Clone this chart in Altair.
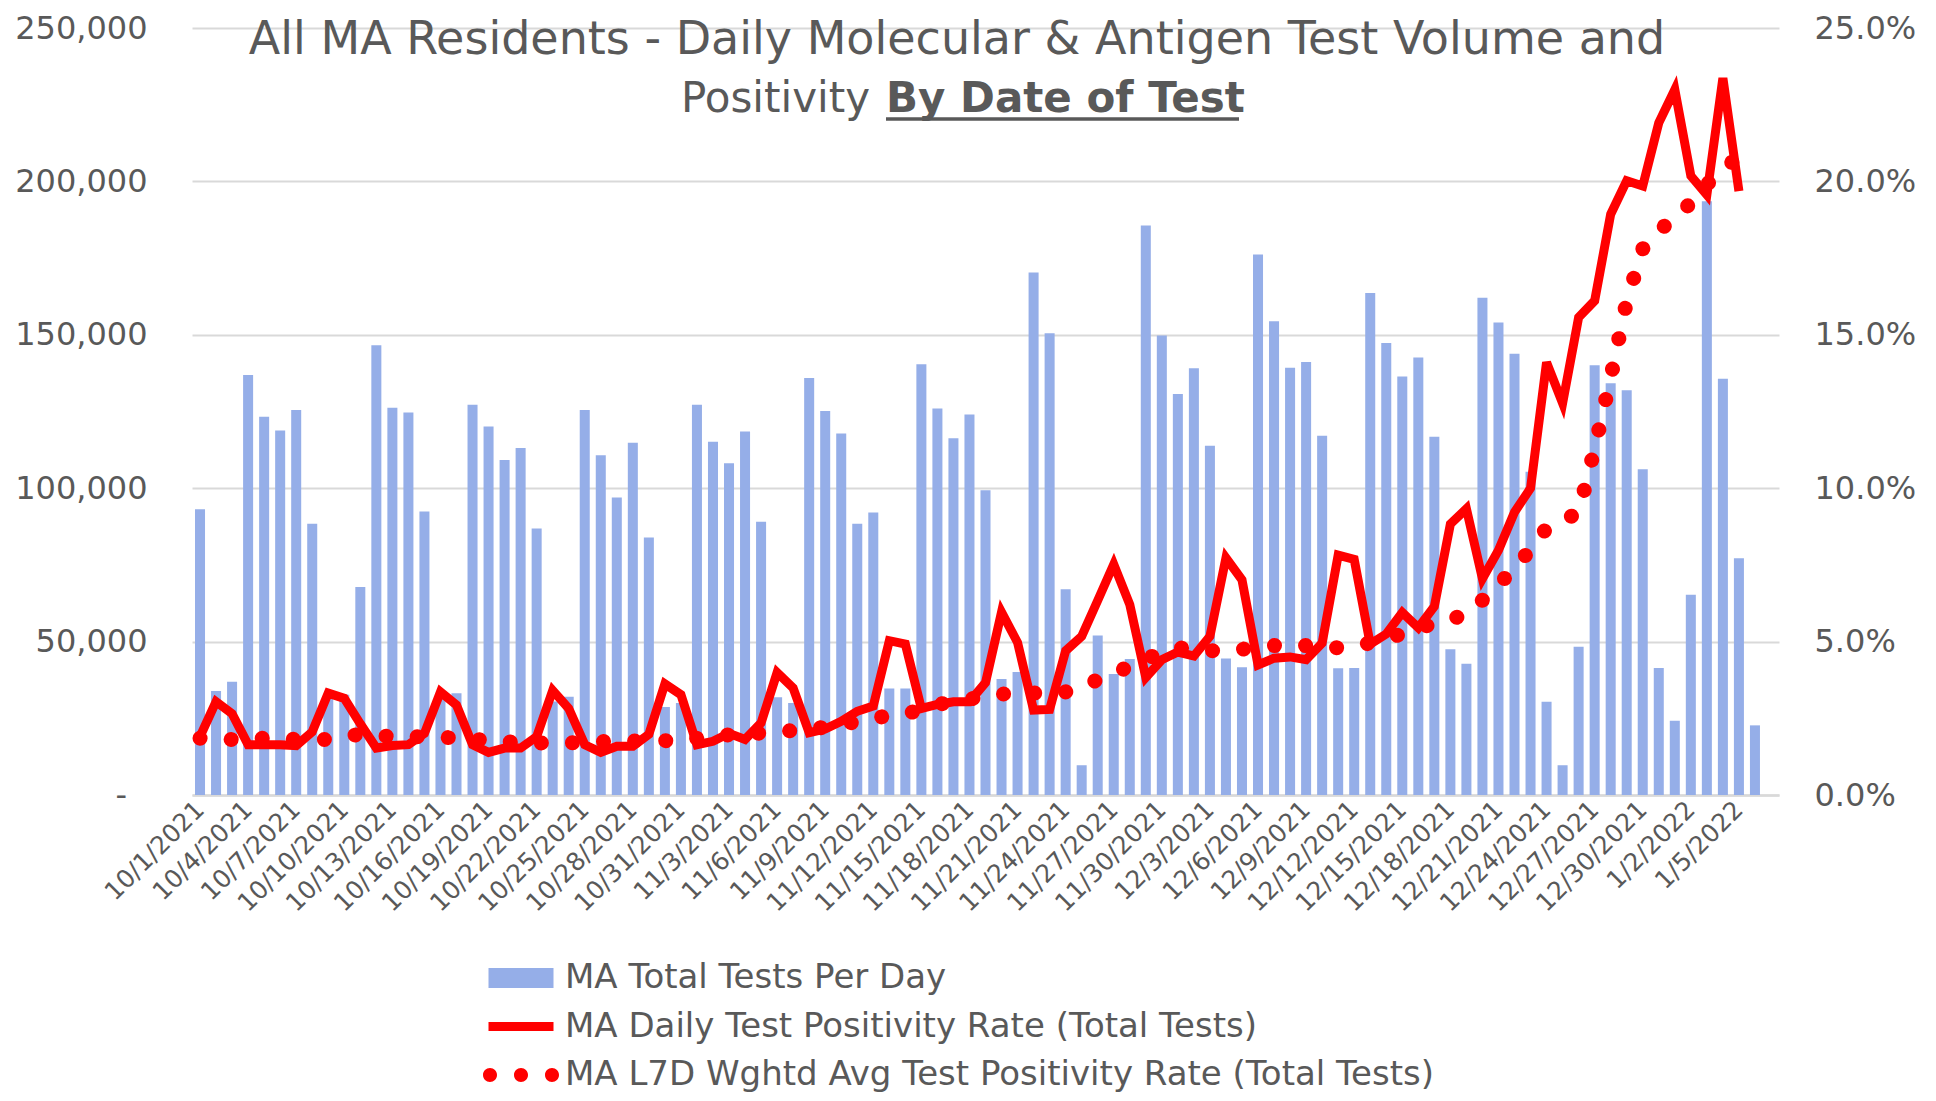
import altair as alt
import pandas as pd

# ---------------- data ----------------
dates = [d.strftime("%-m/%-d/%Y") for d in pd.date_range("2021-10-01", "2022-01-07")]  # 99 categories (last empty)

tests = [
    93100, 33900, 36900, 136900, 123300, 118800, 125500, 88400, 32000, 32700,
    67800, 146600, 126200, 124700, 92400, 32400, 33200, 127200, 120100, 109200,
    113100, 86900, 30500, 32000, 125500, 110700, 97000, 114800, 83900, 28700,
    30000,
    127200, 115100, 108100, 118500, 89100, 31900, 30000, 135900, 125200, 117800,
    88400, 92100, 34700, 34700, 140400, 126000, 116300, 124000, 99300, 37800,
    40100, 170300, 150500, 67100, 9700, 52000, 39400, 44300, 185600, 149800,
    130700, 139100, 113800, 44500, 41600, 176200, 154400, 139300, 141100, 117100,
    41300, 41400, 163600, 147300, 136400, 142600, 116800, 47500, 42800, 162100,
    154000, 143800, 105400, 30400, 9700, 48300, 140100, 134200, 131900, 106200,
    41400,
    24200, 65300, 193500, 135700, 77200, 22700,
]

daily_pct = [
    1.90, 3.04, 2.65, 1.64, 1.64, 1.64, 1.61, 2.06, 3.32, 3.15,
    2.32, 1.53, 1.61, 1.64, 2.01, 3.36, 2.93, 1.64, 1.39, 1.53,
    1.53, 1.90, 3.41, 2.82, 1.64, 1.39, 1.59, 1.59, 1.98, 3.62,
    3.27,
    1.64, 1.75, 2.01, 1.81, 2.35, 3.99, 3.49, 2.03, 2.15, 2.40,
    2.73, 2.90, 5.03, 4.92, 2.82, 2.95, 3.04, 3.04, 3.66, 5.96,
    4.97, 2.77, 2.79, 4.70, 5.17, 6.34, 7.52, 6.21, 3.83, 4.41,
    4.66, 4.53, 5.17, 7.73, 7.01, 4.24, 4.46, 4.50, 4.41, 4.95,
    7.82, 7.68, 4.92, 5.25, 5.95, 5.45, 6.15, 8.83, 9.33, 7.05,
    7.98, 9.22, 10.00, 14.10, 12.77, 15.57, 16.11, 18.93, 20.02, 19.85,
    21.91,
    22.99, 20.18, 19.56, 23.37, 19.68, None,
]

l7d_pct = [
    1.85, 1.83, 1.81, 1.83, 1.85, 1.83, 1.81, 1.81, 1.81, 1.90,
    1.98, 1.94, 1.90, 1.90, 1.90, 1.88, 1.86, 1.82, 1.78, 1.74,
    1.71, 1.70, 1.69, 1.70, 1.71, 1.74, 1.76, 1.76, 1.76, 1.77,
    1.78,
    1.85, 1.93, 1.96, 1.98, 2.02, 2.06, 2.10, 2.15, 2.21, 2.28,
    2.40, 2.52, 2.57, 2.63, 2.80, 2.95, 3.04, 3.12, 3.25, 3.29,
    3.31, 3.32, 3.34, 3.36, 3.55, 3.75, 3.95, 4.20, 4.43, 4.65,
    4.80, 4.75, 4.70, 4.72, 4.75, 4.82, 4.87, 4.87, 4.87, 4.82,
    4.80, 4.88, 4.95, 5.10, 5.25, 5.42, 5.60, 5.72, 5.90, 6.35,
    6.85, 7.40, 8.00, 8.70, 8.95, 9.20, 11.30, 13.60, 16.10, 17.80,
    18.40,
    18.80, 19.30, 19.90, 20.40, 20.80, None,
]

series_names = [
    "MA Total Tests Per Day",
    "MA Daily Test Positivity Rate (Total Tests)",
    "MA L7D Wghtd Avg Test Positivity Rate (Total Tests)",
]
title_line1 = "All MA Residents - Daily Molecular & Antigen Test Volume and"
title_line2a = "Positivity"
title_line2b = "By Date of Test"

# ---------------- style ----------------
FONT = "DejaVu Sans"
GRAY = "#595959"
GRID = "#d9d9d9"
BAR = "#95aee8"
RED = "#ff0000"

n = len(tests)
df = pd.DataFrame({
    "date": dates[:n],
    "tests": tests,
    "daily": daily_pct,
    "l7d": l7d_pct,
})

x_enc = alt.X(
    "date:N", sort=None,
    scale=alt.Scale(domain=dates, paddingInner=0.375, paddingOuter=0.1875),
    axis=alt.Axis(
        title=None, values=dates[0:97:3], labelAngle=-45, labelFont=FONT,
        labelFontSize=25, labelColor=GRAY, labelPadding=10, labelAlign="right",
        labelBaseline="middle", ticks=False,
        domainColor=GRID, domainWidth=2.5, labelOverlap=False, grid=False,
    ),
)

bars = alt.Chart(df).mark_bar(color=BAR).encode(
    x=x_enc,
    y=alt.Y(
        "tests:Q",
        scale=alt.Scale(domain=[0, 250000], nice=False),
        axis=alt.Axis(
            title=None, values=[0, 50000, 100000, 150000, 200000, 250000],
            labelExpr="datum.value == 0 ? '-\u00a0\u00a0\u200b' : format(datum.value, ',')",
            labelFont=FONT, labelFontSize=32, labelColor=GRAY, labelPadding=45,
            ticks=False, domain=False, grid=True, gridColor=GRID, gridWidth=2,
        ),
    ),
)

y_right = alt.Y(
    "daily:Q",
    scale=alt.Scale(domain=[0, 25], nice=False),
    axis=alt.Axis(
        title=None, orient="right", values=[0, 5, 10, 15, 20, 25],
        labelExpr="format(datum.value, '.1f') + '%'",
        labelFont=FONT, labelFontSize=32, labelColor=GRAY, labelPadding=35,
        ticks=False, domain=False, grid=False,
    ),
)

daily_line = alt.Chart(df).mark_line(color=RED, strokeWidth=9).encode(
    x=alt.X("date:N", sort=None),
    y=y_right,
)
l7d_line = alt.Chart(df).mark_line(
    color=RED, strokeWidth=15, strokeCap="round", strokeDash=[0.1, 31]
).encode(
    x=alt.X("date:N", sort=None),
    y=alt.Y("l7d:Q"),
)

# legend (driven by the colour/shape scales only, no marks drawn)
shape_bar = "M -1.3,-0.4 L 1.3,-0.4 L 1.3,0.4 L -1.3,0.4 Z"
shape_line = "M -1.3,-0.18 L 1.3,-0.18 L 1.3,0.18 L -1.3,0.18 Z"
def circ(cx, r=0.28):
    return (f"M {cx - r},0 A {r},{r} 0 1,0 {cx + r},0 "
            f"A {r},{r} 0 1,0 {cx - r},0 Z ")
shape_dots = circ(-1.24) + circ(0) + circ(1.24)

leg = alt.Legend(
    title=None, orient="none", legendX=304, legendY=925, direction="vertical",
    symbolSize=2500, symbolStrokeWidth=0, symbolOpacity=1,
    labelFont=FONT, labelFontSize=34, labelColor=GRAY, labelOffset=19,
    labelLimit=1500, rowPadding=6.5, padding=0,
)
legend_df = pd.DataFrame({"series": series_names})
legend_layer = alt.Chart(legend_df).transform_filter("false").mark_point(
    filled=True, opacity=1
).encode(
    color=alt.Color("series:N", scale=alt.Scale(domain=series_names, range=[BAR, RED, RED]), legend=leg),
    shape=alt.Shape("series:N", scale=alt.Scale(domain=series_names, range=[shape_bar, shape_line, shape_dots]), legend=leg),
)

# title pieces
t1 = alt.Chart(pd.DataFrame({"t": [title_line1]})).mark_text(
    font=FONT, fontSize=46, color=GRAY, align="center", baseline="alphabetic"
).encode(text="t:N", x=alt.value(765), y=alt.value(26))
t2a = alt.Chart(pd.DataFrame({"t": [title_line2a]})).mark_text(
    font=FONT, fontSize=42, color=GRAY, align="right", baseline="alphabetic"
).encode(text="t:N", x=alt.value(678), y=alt.value(84))
t2b = alt.Chart(pd.DataFrame({"t": [title_line2b]})).mark_text(
    font=FONT, fontSize=42, fontWeight="bold", color=GRAY, align="left", baseline="alphabetic"
).encode(text="t:N", x=alt.value(694), y=alt.value(84))
underline = alt.Chart(pd.DataFrame({"t": [title_line2b]})).mark_rule(
    color=GRAY, strokeWidth=3.5
).encode(x=alt.value(694), x2=alt.value(1047), y=alt.value(91))

lines = alt.layer(daily_line, l7d_line)

chart = alt.layer(
    bars, lines, legend_layer, t1, t2a, t2b, underline
).resolve_scale(y="independent").properties(
    width=1587, height=767,
    autosize=alt.AutoSizeParams(type="none"),
    padding={"left": 184, "top": 20, "right": 140, "bottom": 298},
).configure(
    background="white",
    view=alt.ViewConfig(stroke="transparent", strokeWidth=0, strokeOpacity=0),
)

chart.save("out.html", embed_options={"renderer": "svg", "actions": False})
